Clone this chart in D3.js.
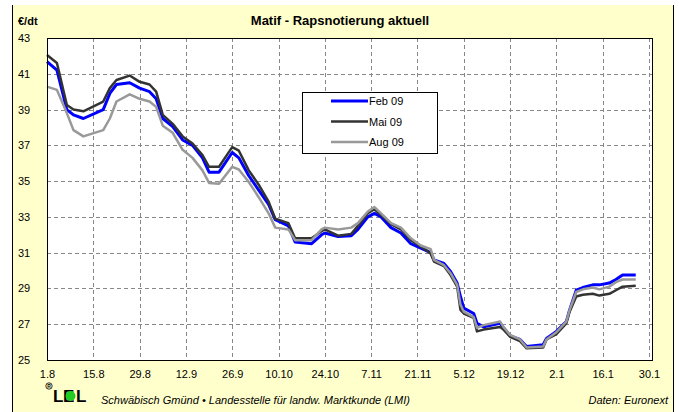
<!DOCTYPE html>
<html><head><meta charset="utf-8">
<script src="https://cdn.jsdelivr.net/npm/d3@7"></script>
<style>
html,body{margin:0;padding:0;background:#fff;}
svg{display:block;font-family:"Liberation Sans",Arial,sans-serif;}
</style></head>
<body><svg id="chart" width="679" height="412"></svg>
<script>
const dates = ["2008-08-01","2008-08-04","2008-08-07","2008-08-09","2008-08-12","2008-08-18","2008-08-20","2008-08-22","2008-08-26","2008-08-29",
"2008-09-01","2008-09-03","2008-09-05","2008-09-08","2008-09-11","2008-09-14","2008-09-17","2008-09-19","2008-09-22","2008-09-26","2008-09-28",
"2008-10-01","2008-10-04","2008-10-07","2008-10-09","2008-10-13","2008-10-15","2008-10-20","2008-10-23","2008-10-24","2008-10-28",
"2008-11-01","2008-11-03","2008-11-06","2008-11-08","2008-11-10","2008-11-13","2008-11-16","2008-11-19","2008-11-22","2008-11-25","2008-11-26","2008-11-29",
"2008-12-01","2008-12-03","2008-12-04","2008-12-05","2008-12-08","2008-12-09","2008-12-11","2008-12-16","2008-12-17","2008-12-19","2008-12-22","2008-12-24","2008-12-29","2008-12-30",
"2009-01-02","2009-01-05","2009-01-06","2009-01-08","2009-01-10","2009-01-13","2009-01-15","2009-01-18","2009-01-20","2009-01-22","2009-01-26"];
const feb09 = [41.68,41.2,39.0,38.7,38.5,39.0,39.9,40.4,40.5,40.2,
40.0,39.6,38.5,38.05,37.3,37.0,36.3,35.5,35.5,36.6,36.3,
35.3,34.5,33.7,32.85,32.5,31.6,31.5,32.0,32.1,31.9,
31.95,32.3,33.0,33.2,33.0,32.4,32.1,31.5,31.25,31.0,30.6,30.4,
29.95,29.3,28.55,27.9,27.6,27.05,26.85,27.05,26.8,26.35,26.15,25.75,25.85,26.2,
26.6,27.15,27.8,28.9,29.05,29.2,29.2,29.3,29.5,29.75,29.75];
const mai09 = [42.05,41.6,39.25,39.0,38.9,39.45,40.2,40.65,40.9,40.55,
40.4,40.0,38.7,38.2,37.5,37.1,36.45,35.8,35.8,36.9,36.7,
35.6,34.8,33.85,32.9,32.65,31.8,31.8,32.2,32.3,31.95,
32.05,32.5,33.2,33.43,33.1,32.6,32.3,31.7,31.35,30.95,30.5,30.25,
29.75,29.1,27.8,27.6,27.35,26.6,26.7,26.85,26.7,26.3,26.05,25.65,25.7,26.15,
26.45,27.05,27.7,28.55,28.65,28.7,28.6,28.7,28.9,29.1,29.15];
const aug09 = [40.28,40.1,38.8,37.85,37.5,37.85,38.5,39.45,39.85,39.6,
39.45,39.15,38.1,37.7,36.75,36.3,35.6,34.9,34.85,35.8,35.65,
34.95,34.1,33.2,32.4,32.3,31.7,31.7,32.3,32.4,32.3,
32.4,32.65,33.3,33.55,33.2,32.65,32.4,31.8,31.4,31.2,30.6,30.3,
29.85,29.2,28.1,27.7,27.4,26.8,26.95,27.15,26.85,26.4,26.15,25.7,25.75,26.15,
26.55,27.15,27.8,28.8,28.95,29.05,28.95,29.1,29.35,29.5,29.5];
const seriesNames = ["Feb 09","Mai 09","Aug 09"];
const xTickLabels = ["1.8","15.8","29.8","12.9","26.9","10.10","24.10","7.11","21.11","5.12","19.12","2.1","16.1","30.1"];
const yTicks = [43,41,39,37,35,33,31,29,27,25];
const title = "Matif - Rapsnotierung aktuell";
const yUnit = "€/dt";
const footerText = "Schwäbisch Gmünd • Landesstelle für landw. Marktkunde (LMI)";
const sourceText = "Daten: Euronext";

const parse = d3.timeParse("%Y-%m-%d");
const svg = d3.select("#chart");
const colors = ["#0000ff","#333333","#999999"];
const widths = [3,2.5,2.5];

// panel
svg.append("rect").attr("x",12).attr("y",5).attr("width",661).attr("height",407).attr("fill","#ffffcc");
svg.append("line").attr("x1",12.5).attr("x2",12.5).attr("y1",5).attr("y2",412).attr("stroke","#000");
svg.append("line").attr("x1",673.5).attr("x2",673.5).attr("y1",5).attr("y2",412).attr("stroke","#000");

const L=47,T=38,R=653,B=360;
svg.append("rect").attr("x",L).attr("y",T).attr("width",R-L).attr("height",B-T).attr("fill","#fff");

const x0 = new Date(2008,7,1);
const xTickDates = xTickLabels.map((_,i)=>d3.timeDay.offset(x0,14*i));
const x = d3.scaleTime().domain([x0, xTickDates[xTickDates.length-1]]).range([L,649]);
const y = d3.scaleLinear().domain([25,43]).range([B,T]);

// grid
svg.append("g").selectAll("line").data(yTicks.slice(1,-1)).join("line")
  .attr("x1",L).attr("x2",R).attr("y1",d=>Math.round(y(d))+0.5).attr("y2",d=>Math.round(y(d))+0.5)
  .attr("stroke","#888").attr("stroke-dasharray","4,3");
svg.append("g").selectAll("line").data(xTickDates.slice(1)).join("line")
  .attr("y1",T).attr("y2",B).attr("x1",d=>Math.round(x(d))+0.5).attr("x2",d=>Math.round(x(d))+0.5)
  .attr("stroke","#888").attr("stroke-dasharray","4,3");

// axes labels
const yAxis = d3.axisLeft(y).tickValues(yTicks).tickSize(0).tickFormat(d=>d);
const gy = svg.append("g").attr("transform",`translate(18,0)`).call(yAxis);
gy.select(".domain").remove();
gy.selectAll("text").attr("x",0).attr("text-anchor","start").attr("font-size",11).attr("fill","#000").attr("font-family","Liberation Sans, Arial");

const xAxis = d3.axisBottom(x).tickValues(xTickDates).tickSize(0).tickFormat((d,i)=>xTickLabels[i]);
const gx = svg.append("g").attr("transform",`translate(0,367)`).call(xAxis);
gx.select(".domain").remove();
gx.selectAll("text").attr("font-size",11).attr("fill","#000").attr("font-family","Liberation Sans, Arial");

// lines
const all = [feb09,mai09,aug09];
const line = d3.line().x(d=>x(d[0])).y(d=>y(d[1]));
const pd = dates.map(parse);
all.forEach((vals,i)=>{
  svg.append("path").datum(pd.map((d,j)=>[d,vals[j]])).attr("d",line)
    .attr("fill","none").attr("stroke",colors[i]).attr("stroke-width",widths[i]).attr("stroke-linejoin","round");
});

// frame
svg.append("rect").attr("x",L+0.5).attr("y",T+0.5).attr("width",R-L-1).attr("height",B-T).attr("fill","none").attr("stroke","#000");

// title
svg.append("text").attr("x",340).attr("y",25).attr("text-anchor","middle").attr("font-weight","bold").attr("font-size",13).text(title);
svg.append("text").attr("x",18).attr("y",25).attr("font-weight","bold").attr("font-size",11).text(yUnit);

// legend
const lg = svg.append("g");
lg.append("rect").attr("x",302.5).attr("y",92.5).attr("width",135).attr("height",61).attr("fill","#fff").attr("stroke","#000");
seriesNames.forEach((n,i)=>{
  const yy = 101 + i*20.5;
  lg.append("line").attr("x1",331).attr("x2",368).attr("y1",yy).attr("y2",yy).attr("stroke",colors[i]).attr("stroke-width",widths[i]);
  lg.append("text").attr("x",369).attr("y",yy+4).attr("font-size",11).text(n);
});

// footer
svg.append("circle").attr("cx",49).attr("cy",386).attr("r",3.2).attr("fill","none").attr("stroke","#000").attr("stroke-width",0.8);
svg.append("text").attr("x",49).attr("y",388).attr("text-anchor","middle").attr("font-size",5).attr("font-weight","bold").text("R");
const logo = svg.append("g");
logo.append("text").attr("x",53).attr("y",402).attr("font-size",17).attr("font-weight","bold").text("L");
logo.append("text").attr("x",63).attr("y",402).attr("font-size",17).attr("font-weight","bold").text("E");
logo.append("circle").attr("cx",70.5).attr("cy",396).attr("r",5).attr("fill","#22cc22");
logo.append("text").attr("x",76).attr("y",402).attr("font-size",17).attr("font-weight","bold").text("L");
svg.append("text").attr("x",101).attr("y",404).attr("font-size",11).attr("font-style","italic").text(footerText);
svg.append("text").attr("x",668).attr("y",404).attr("text-anchor","end").attr("font-size",11).attr("font-style","italic").text(sourceText);
</script></body></html>
